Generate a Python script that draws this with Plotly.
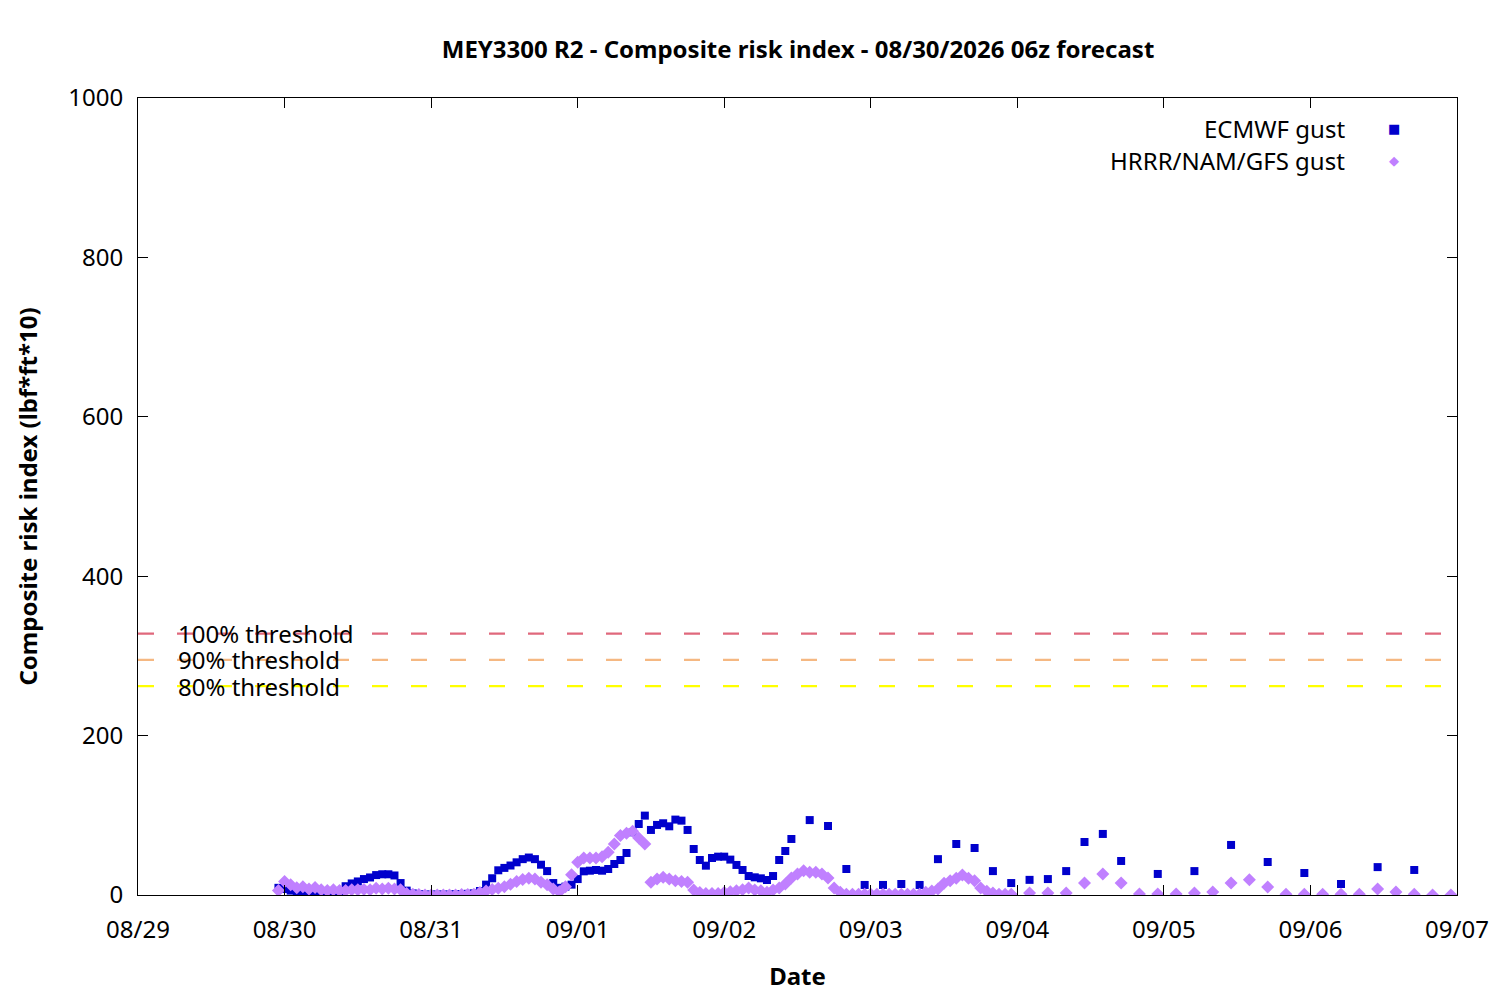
import pandas as pd
import plotly.graph_objects as go

# ECMWF gust: hourly, then 3-hourly, then 6-hourly
ecmwf_hourly = [9, 7.5, 5.5, 4.5, 3, 2, 1.5, 1, 1, 1.5,
                5, 11, 14.5, 17, 20, 22, 25, 26, 26, 24.5,
                15, 5.5, 2, 1, 0.5, 0.5, 0.5, 0.5, 0.5, 1,
                1, 1.5, 2, 5, 13, 21, 31, 34, 37, 41,
                45, 47, 45, 38, 30, 15, 9, 10.5, 13, 20,
                29.7, 30.5, 31.4, 30.5, 32.6, 38.9, 43.9, 52.7, 78.7, 89.1,
                99.6, 81.6, 87.9, 90, 86.2, 94.6, 93.3, 81.6, 57.7, 43.9,
                36.8, 46.4, 48.1, 48.1, 44.4, 37.7, 31.4, 23.8, 22.2, 20.9,
                18.8, 23.8, 43.9, 55.2, 70.3]
ecmwf_3h = [94, 86.6, 32.6, 12.6, 12.6, 13.8, 12.6, 45, 64, 59,
            30, 15, 19, 20, 30, 66.5, 76.6, 42.7]
ecmwf_6h = [26.4, 30, 62.8, 41.4, 27.6, 13.8, 35, 31.4]

# HRRR/NAM/GFS gust: hourly, then 3-hourly
hrrr_hourly = [5.5, 17, 13, 9, 10.5, 7.5, 9.5, 6.5, 5.5, 6.5,
               5.5, 5.5, 6.5, 6.5, 7, 6.5, 8.5, 7.5, 8.5, 7.5,
               6.5, 2, 1, 0.5, 0, 0, 0, 0, 0, 0,
               0.5, 0.5, 1, 3, 5, 7, 8.5, 10.5, 13.5, 17,
               19.5, 21, 20, 16, 13, 7.5, 4, 10.5, 25.5, 41,
               46.4, 46.4, 46.4, 48, 53.6, 64, 74.5, 77.4, 80, 71.5,
               64, 15.9, 20, 22.2, 20, 18, 17, 15.9, 6.3, 3,
               2, 2, 2, 3, 4.2, 5.4, 6.7, 8.8, 6.3, 5.4,
               3.3, 6.3, 8.8, 13.8, 21.3, 26.4, 30.5, 28.5, 28.5, 26.4,
               21.3, 8.8, 3.3, 1, 1, 1, 1, 1, 1, 1,
               1, 1, 1, 1, 1, 1, 3.3, 5, 7.5, 14.6,
               18, 21, 25, 21, 18, 8.8, 4.6, 2.5, 1, 1,
               1]
hrrr_3h = [2.5, 2.5, 2.5, 15, 26.4, 15, 1.3, 1.3, 1.3, 2.5,
           3.8, 15, 19, 10, 1, 1, 1, 1, 1, 7.5,
           3.8, 1, 0, 0]

thresholds = [328, 295, 262]
threshold_names = ['100% threshold', '90% threshold', '80% threshold']
threshold_colors = ['#e0687c', '#f5b882', '#ffff00']

ecmwf_time = (pd.date_range('2026-08-29 23:00', periods=len(ecmwf_hourly), freq='h')
              .append(pd.date_range('2026-09-02 14:00', periods=len(ecmwf_3h), freq='3h'))
              .append(pd.date_range('2026-09-04 23:00', periods=len(ecmwf_6h), freq='6h')))
hrrr_time = (pd.date_range('2026-08-29 23:00', periods=len(hrrr_hourly), freq='h')
             .append(pd.date_range('2026-09-04 02:00', periods=len(hrrr_3h), freq='3h')))

FONT = 'Noto Sans'

trace1 = go.Scatter(x=ecmwf_time, y=ecmwf_hourly + ecmwf_3h + ecmwf_6h,
                    mode='markers', name='ECMWF gust',
                    marker={'symbol': 'square', 'size': 8, 'color': '#0000cc'})
trace2 = go.Scatter(x=hrrr_time, y=hrrr_hourly + hrrr_3h,
                    mode='markers', name='HRRR/NAM/GFS gust',
                    marker={'symbol': 'diamond', 'size': 10, 'color': '#c080ff'})

shapes = []
annotations = []
for val, name, col in zip(thresholds, threshold_names, threshold_colors):
    shapes.append(dict(type='line', xref='paper', x0=0, x1=1, yref='y', y0=val, y1=val,
                       line=dict(color=col, width=2.3, dash='16px,23px'), layer='below'))
    annotations.append(dict(xref='paper', x=0.029, yref='y', y=val, text=name,
                            showarrow=False, xanchor='left', yanchor='middle',
                            font=dict(size=24, color='black', family=FONT)))

# gnuplot style key: text right aligned, sample on the right
key = [('ECMWF gust', '■', '#0000cc', 0.962), ('HRRR/NAM/GFS gust', '◆', '#c080ff', 0.922)]
for text, glyph, col, ypos in key:
    annotations.append(dict(xref='paper', x=0.9165, yref='paper', y=ypos, text=text,
                            showarrow=False, xanchor='right', yanchor='middle',
                            font=dict(size=24, color='black', family=FONT)))
    annotations.append(dict(xref='paper', x=0.952, yref='paper', y=ypos, text=glyph,
                            showarrow=False, xanchor='center', yanchor='middle',
                            font=dict(size=13, color=col, family='DejaVu Sans')))

layout = go.Layout(
    width=1500, height=1000,
    margin=dict(l=130, r=51, t=90, b=113),
    plot_bgcolor='white', paper_bgcolor='white',
    font=dict(family=FONT, size=24, color='black'),
    title=dict(text='<b>MEY3300 R2 - Composite risk index - 08/30/2026 06z forecast</b>',
               x=0.5267, xanchor='center', y=0.958, yanchor='middle',
               font=dict(size=24, family=FONT)),
    showlegend=False,
    xaxis=dict(type='date', range=['2026-08-29', '2026-09-07'],
               tick0='2026-08-29', dtick=86400000, tickformat='%m/%d',
               ticks='inside', ticklen=10, tickcolor='black',
               showline=True, linecolor='black', linewidth=1, mirror='ticks',
               showgrid=False, zeroline=False, ticklabelstandoff=13,
               title=dict(text='<b>Date</b>', standoff=24, font=dict(size=24))),
    yaxis=dict(range=[0, 1000], dtick=200,
               ticks='inside', ticklen=10, tickcolor='black',
               showline=True, linecolor='black', linewidth=1, mirror='ticks',
               showgrid=False, zeroline=False, ticklabelstandoff=9,
               title=dict(text='<b>Composite risk index (lbf*ft*10)</b>', standoff=23,
                          font=dict(size=24))),
    shapes=shapes, annotations=annotations,
)

fig = go.Figure(data=[trace1, trace2], layout=layout)
fig.update_traces(hoverinfo='skip')
fig.write_html('out.html')
